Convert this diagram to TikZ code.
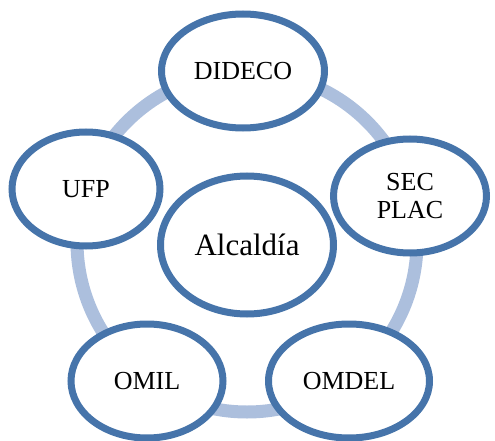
\documentclass[tikz,border=0pt]{standalone}
\usepackage{fontspec}
\setmainfont{Liberation Serif}
\usetikzlibrary{shapes.geometric,shadows}
\definecolor{ringc}{RGB}{172,191,221}
\definecolor{edgec}{RGB}{70,116,170}
\tikzset{
  unit/.style={ellipse, draw=edgec, line width=7pt, fill=white, inner sep=0pt,
    minimum width=#1, minimum height=114pt, align=center,
    drop shadow={opacity=0.12, shadow xshift=1pt, shadow yshift=-3pt},
    font=\fontsize{26}{28}\selectfont},
  unit/.default=155pt,
  center/.style={ellipse, draw=edgec, line width=7pt, fill=white, inner sep=0pt,
    minimum width=173pt, minimum height=138pt,
    drop shadow={opacity=0.12, shadow xshift=1pt, shadow yshift=-3pt},
    font=\fontsize{31}{34}\selectfont}
}
\begin{document}
\begin{tikzpicture}[x=1pt,y=-1pt]
\useasboundingbox (0,0) rectangle (495,441);
\coordinate (ringc) at (247,242);
\draw[ringc, line width=13pt] (ringc) circle[radius=170pt];
\node[unit=163pt] (dideco) at (243,71) {DIDECO};
\node[unit=153pt] (secplac) at (410,196) {SEC\\PLAC};
\node[unit=148pt] (ufp) at (86,189) {UFP};
\node[unit=152pt] (omil) at (147,381) {OMIL};
\node[unit=161pt] (omdel) at (349,381) {OMDEL};
\node[center] (alcaldia) at (247,245) {Alcaldía};
\end{tikzpicture}
\end{document}
